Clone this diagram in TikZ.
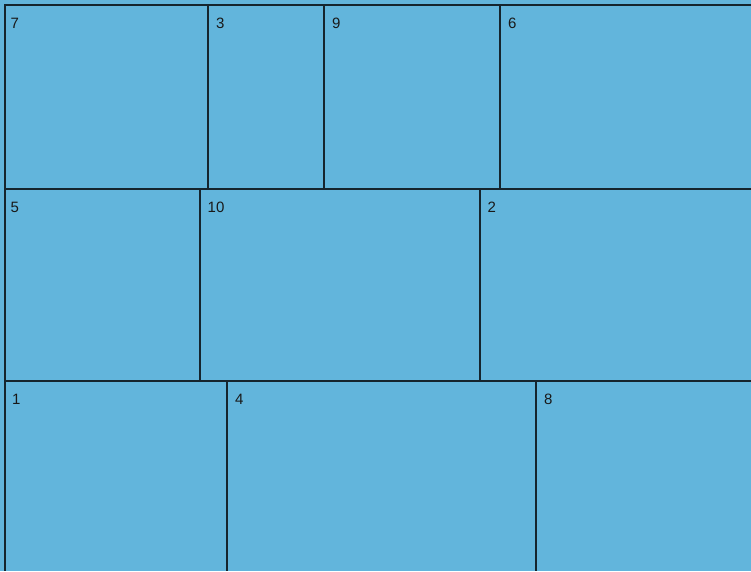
\documentclass[tikz,border=0pt]{standalone}
\usepackage{fontspec}
\setmainfont{Liberation Sans}
\definecolor{cellblue}{HTML}{62B5DC}
\definecolor{edge}{HTML}{15252E}
\begin{document}
\begin{tikzpicture}[x=1pt,y=-1pt,
  cell/.style={fill=cellblue},
  sep/.style={draw=edge,line width=2pt},
  lbl/.style={anchor=north west,inner sep=0pt,font=\fontsize{15}{17}\selectfont,text=black!90}]
\useasboundingbox (0,0) rectangle (751,571);
\fill[cellblue] (0,0) rectangle (751,571);
% row 1 cells
\fill[cell] (5,5) rectangle (207.5,189);
\fill[cell] (207.5,5) rectangle (323.5,189);
\fill[cell] (323.5,5) rectangle (499.5,189);
\fill[cell] (499.5,5) rectangle (751,189);
% row 2 cells
\fill[cell] (5,189) rectangle (199.5,381);
\fill[cell] (199.5,189) rectangle (479.5,381);
\fill[cell] (479.5,189) rectangle (751,381);
% row 3 cells
\fill[cell] (5,381) rectangle (226.5,571);
\fill[cell] (226.5,381) rectangle (536,571);
\fill[cell] (536,381) rectangle (751,571);
% separators
\draw[sep] (4,5) -- (751,5);
\draw[sep] (5,5) -- (5,571);
\draw[sep] (5,189) -- (751,189);
\draw[sep] (5,381) -- (751,381);
\draw[sep] (208,5) -- (208,189);
\draw[sep] (324,5) -- (324,189);
\draw[sep] (500,5) -- (500,189);
\draw[sep] (200,189) -- (200,381);
\draw[sep] (480,189) -- (480,381);
\draw[sep] (227,381) -- (227,571);
\draw[sep] (536,381) -- (536,571);
% labels
\node[lbl] (l7) at (10.5,17.5) {7};
\node[lbl] (l3) at (216,17.5) {3};
\node[lbl] (l9) at (332,17.5) {9};
\node[lbl] (l6) at (508,17.5) {6};
\node[lbl] (l5) at (10.5,201.5) {5};
\node[lbl] (l10) at (207.5,201.5) {10};
\node[lbl] (l2) at (487.5,201.5) {2};
\node[lbl] (l1) at (12,394) {1};
\node[lbl] (l4) at (235,394) {4};
\node[lbl] (l8) at (544,394) {8};
\end{tikzpicture}
\end{document}
